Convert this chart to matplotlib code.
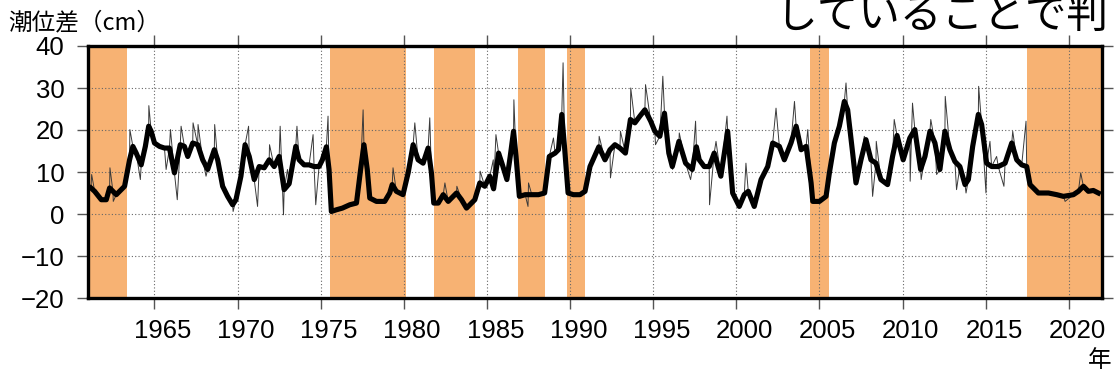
import matplotlib
matplotlib.use("Agg")
import matplotlib.pyplot as plt
from matplotlib.ticker import FixedLocator, NullFormatter

# smoothed tide-level difference (thick line)
smooth_years = [
    1961.18, 1961.4, 1961.8, 1962.1, 1962.3, 1962.5, 1962.7, 1963.0, 1963.2, 1963.5,
    1963.7, 1963.9, 1964.2, 1964.45, 1964.65, 1964.8, 1965.0, 1965.3, 1965.6, 1965.9,
    1966.2, 1966.55, 1966.8, 1967.0, 1967.3, 1967.6, 1967.9, 1968.2, 1968.6, 1968.8,
    1969.1, 1969.4, 1969.7, 1969.9, 1970.2, 1970.45, 1970.7, 1971.0, 1971.3, 1971.6,
    1971.9, 1972.2, 1972.5, 1972.8, 1973.1,
    1973.5, 1973.7, 1974.0, 1974.3, 1974.6, 1974.9, 1975.1, 1975.34, 1975.5, 1975.64,
    1975.94, 1976.3, 1976.75, 1977.15, 1977.4, 1977.6, 1977.8, 1977.95, 1978.35, 1978.85,
    1979.15, 1979.3, 1979.55, 1979.95, 1980.26, 1980.56, 1980.86, 1981.16, 1981.46, 1981.66,
    1981.8, 1982.07, 1982.37, 1982.67, 1983.17, 1983.47, 1983.77, 1984.27, 1984.57, 1984.87,
    1985.17,
    1985.4, 1985.7, 1985.9, 1986.2, 1986.4, 1986.6, 1986.75, 1986.95, 1987.3, 1987.7,
    1988.1, 1988.47, 1988.75, 1989.1, 1989.3, 1989.5, 1989.68, 1989.88, 1990.2, 1990.6,
    1990.9, 1991.2, 1991.73, 1992.1, 1992.4, 1992.7, 1993.0, 1993.33, 1993.63, 1993.9,
    1994.2, 1994.5, 1994.85, 1995.1, 1995.4, 1995.68, 1995.94, 1996.15, 1996.55, 1996.95,
    1997.35,
    1997.6, 1997.77, 1998.07, 1998.37, 1998.67, 1999.07, 1999.48, 1999.78, 2000.18, 2000.48,
    2000.72, 2001.08, 2001.49, 2001.89, 2002.19, 2002.59, 2002.89, 2003.29, 2003.6, 2003.9,
    2004.2, 2004.5, 2004.6, 2005.0, 2005.4, 2005.6, 2005.9, 2006.2, 2006.5, 2006.7,
    2007.0, 2007.2, 2007.5, 2007.8, 2008.1, 2008.4, 2008.7, 2009.1, 2009.4, 2009.67,
    2010.04, 2010.44, 2010.74, 2011.09, 2011.35, 2011.65, 2011.95, 2012.25, 2012.55, 2012.85,
    2013.15, 2013.45, 2013.76, 2013.96, 2014.22, 2014.56, 2014.76, 2015.06, 2015.36, 2015.76,
    2016.17, 2016.57, 2016.87, 2017.17, 2017.47, 2017.67, 2018.17, 2018.78, 2019.28, 2019.68,
    2020.28, 2020.58, 2020.88, 2021.18, 2021.48, 2021.78,
]
smooth_vals = [
    6.2, 5.4, 3.4, 3.4, 6.2, 5.4, 4.6, 5.8, 6.6, 12.9,
    16.1, 14.5, 11.7, 16.1, 20.9, 19.7, 16.9, 16.1, 15.7, 15.7,
    9.8, 16.5, 16.1, 13.7, 16.9, 16.5, 12.9, 10.6, 15.3, 12.9,
    6.6, 4.2, 2.2, 3.4, 9.0, 16.5, 13.7, 8.2, 11.3, 11.0,
    12.9, 11.3, 13.7, 5.8, 7.2,
    16.1, 12.9, 11.7, 11.7, 11.3, 11.3, 12.9, 16.0, 10.6, 0.6,
    1.0, 1.4, 2.2, 2.6, 10.6, 16.5, 10.6, 3.8, 3.0, 3.0,
    5.0, 7.0, 5.4, 4.6, 9.8, 16.5, 12.9, 12.1, 15.7, 9.8,
    2.6, 2.6, 4.6, 3.0, 5.0, 3.4, 1.4, 3.4, 7.4, 6.6,
    9.0,
    6.0, 14.5, 12.1, 8.2, 13.7, 19.7, 13.7, 4.2, 4.6, 4.6,
    4.6, 5.0, 13.7, 14.5, 15.3, 23.7, 15.3, 5.0, 4.6, 4.6,
    5.4, 11.3, 16.0, 12.9, 15.3, 16.5, 15.7, 14.5, 22.5, 21.7,
    23.3, 24.8, 22.1, 19.7, 18.5, 24.0, 14.5, 11.3, 17.3, 12.1,
    10.6,
    16.0, 12.9, 11.3, 11.3, 14.5, 9.0, 19.7, 5.0, 1.8, 4.6,
    5.4, 1.8, 8.2, 11.3, 16.9, 16.1, 12.9, 16.9, 20.9, 15.3,
    16.1, 7.4, 3.0, 3.0, 4.2, 9.8, 16.9, 20.9, 26.8, 24.8,
    14.5, 7.4, 12.9, 17.7, 12.9, 12.1, 8.2, 7.0, 13.7, 18.7,
    12.9, 18.1, 20.1, 10.6, 13.7, 19.7, 16.9, 10.6, 19.7, 15.3,
    12.5, 11.3, 7.0, 8.2, 16.1, 23.7, 21.3, 12.1, 11.3, 11.3,
    12.1, 16.9, 12.9, 11.7, 11.3, 7.0, 5.0, 5.0, 4.6, 4.2,
    4.6, 5.4, 6.6, 5.4, 5.6, 5.0,
]

# monthly spikes of the thin raw line
spike_years = [
    1961.22, 1962.32, 1962.52, 1963.52, 1964.15, 1964.66, 1965.7, 1965.96, 1966.37, 1966.6,
    1966.97, 1967.32, 1967.62, 1968.1, 1968.62, 1969.73, 1970.66, 1971.2, 1971.92, 1972.56,
    1972.76, 1973.0, 1973.57, 1974.54, 1974.7, 1975.44, 1977.55, 1979.35, 1980.66, 1981.56,
    1982.47, 1983.19, 1984.59, 1985.38, 1985.54, 1986.62, 1987.47, 1987.5, 1989.0, 1989.58,
    1991.75, 1992.43, 1993.03, 1993.65, 1994.54, 1995.14, 1995.58, 1996.17, 1996.57, 1997.25,
    1997.55, 1998.39, 1998.78, 1999.44, 2000.58, 2002.39, 2003.5, 2004.3, 2006.6, 2007.7,
    2008.2, 2008.42, 2009.5, 2010.46, 2010.6, 2011.12, 2011.7, 2012.05, 2012.57, 2013.25,
    2013.82, 2014.58, 2015.02, 2015.26, 2015.66, 2016.1, 2016.63, 2017.43, 2019.78, 2020.72,
]
spike_vals = [
    9.4, 11.0, 3.0, 20.1, 8.2, 25.8, 10.6, 20.1, 3.4, 20.9,
    14.1, 21.7, 21.3, 9.0, 21.3, 0.6, 20.9, 1.8, 16.5, 20.9,
    -0.2, 10.6, 20.9, 18.9, 2.2, 23.3, 24.8, 11.0, 21.7, 22.9,
    7.4, 6.6, 10.2, 12.9, 18.9, 27.2, 1.8, 7.4, 18.1, 36.0,
    18.5, 8.6, 19.7, 30.0, 30.8, 16.5, 32.8, 10.6, 19.3, 8.2,
    22.1, 2.2, 17.3, 23.3, 12.1, 25.2, 26.8, 20.1, 31.2, 18.5,
    4.2, 17.3, 22.5, 7.8, 26.4, 8.2, 22.5, 9.4, 28.0, 5.8,
    5.0, 30.4, 5.0, 17.3, 13.7, 6.6, 19.7, 22.1, 3.0, 9.8,
]

# shaded periods (start, end)
span_start = [1960.0, 1975.54, 1981.8, 1986.87, 1989.82, 2004.44, 2017.51]
span_end = [1963.35, 1980.16, 1984.31, 1988.51, 1990.92, 2005.6, 2023.0]

major_years = list(range(1965, 2021, 5))
y_ticks = [-20, -10, 0, 10, 20, 30, 40]

raw = sorted(zip(smooth_years + spike_years, smooth_vals + spike_vals))
raw_years = [p[0] for p in raw]
raw_vals = [p[1] for p in raw]

plt.rcParams['font.family'] = ['Liberation Sans', 'DejaVu Sans']
cjk = ['Noto Sans CJK JP', 'DejaVu Sans']

fig = plt.figure(figsize=(11.15, 3.75), dpi=100)
ax = fig.add_axes([88 / 1115, 77 / 375, 1014 / 1115, 252 / 375])

for s, e in zip(span_start, span_end):
    ax.axvspan(s, e, color='#f7b273', lw=0, zorder=0)

ax.plot(raw_years, raw_vals, color='#3a3a3a', lw=0.7, zorder=2)
ax.plot(smooth_years, smooth_vals, color='black', lw=3.7, solid_joinstyle='round', zorder=3)

ax.set_xlim(1961.0, 2022.0)
ax.set_ylim(-20, 40)

ax.xaxis.set_major_locator(FixedLocator(major_years))
ax.xaxis.set_major_formatter(NullFormatter())
ax.xaxis.set_minor_locator(FixedLocator([y + 0.5 for y in major_years]))
ax.set_xticklabels([str(y) for y in major_years], minor=True)
ax.set_yticks(y_ticks)
ax.set_yticklabels([str(v).replace('-', '\u2212') for v in y_ticks])

ax.tick_params(which='major', direction='out', length=8, width=1.0, color='#555555',
               top=True, right=True, labelsize=18.5, pad=9)
ax.tick_params(axis='x', which='minor', length=0, labelsize=18.5, pad=15, top=False)

ax.grid(True, which='major', color='#666666', lw=0.8, linestyle=(0, (1, 2)))
for sp in ax.spines.values():
    sp.set_linewidth(2.4)
    sp.set_zorder(5)

fig.text(8 / 1115, 1 - 23 / 375, '潮位差（cm）', fontsize=17, family=cjk,
         ha='left', va='center')
fig.text(1088 / 1115, 1 - 349 / 375, '年', fontsize=17, family=cjk,
         ha='left', va='top')
fig.text(775 / 1115, 1 - 28 / 375, 'していることで判', fontsize=30, family=cjk,
         ha='left', va='baseline')

fig.savefig('out.png', dpi=100)
